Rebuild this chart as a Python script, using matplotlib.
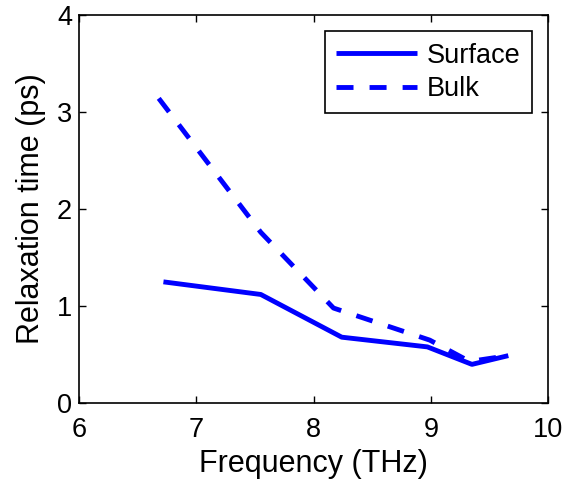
import numpy as np
import matplotlib
matplotlib.use('Agg')
import matplotlib.pyplot as plt

# frequencies (THz) and relaxation times (ps)
surface_freq = [6.72, 7.55, 8.24, 8.97, 9.35, 9.66]
surface_tau = [1.25, 1.12, 0.68, 0.58, 0.40, 0.49]

bulk_freq = [6.68, 7.55, 8.17, 8.99, 9.33, 9.66]
bulk_tau = [3.14, 1.76, 0.98, 0.65, 0.43, 0.49]

plt.rcParams['font.family'] = ['Liberation Sans', 'DejaVu Sans']

fig = plt.figure(figsize=(5.64, 4.8), dpi=100)
ax = fig.add_axes([0.140, 0.160, 0.832, 0.809])

ax.plot(surface_freq, surface_tau, color='#0000ff', lw=3.5, label='Surface',
        solid_capstyle='butt')
ax.plot(bulk_freq, bulk_tau, color='#0000ff', lw=3.5, label='Bulk',
        linestyle=(0, (3.5, 3.3)), dash_capstyle='butt')

ax.set_xlim(6, 10)
ax.set_ylim(0, 4)
ax.set_xticks([6, 7, 8, 9, 10])
ax.set_yticks([0, 1, 2, 3, 4])
ax.tick_params(direction='in', top=True, right=True, length=5, width=1,
               labelsize=19.5)
ax.tick_params(axis='x', pad=10)
ax.tick_params(axis='y', pad=5)
for sp in ax.spines.values():
    sp.set_linewidth(1.2)

ax.set_xlabel('Frequency (THz)', fontsize=22, labelpad=4)
ax.set_ylabel('Relaxation time (ps)', fontsize=22, labelpad=8)

leg = ax.legend(loc='upper right', fontsize=19.5, handlelength=3.0,
                handletextpad=0.35, borderpad=0.42, labelspacing=0.28,
                fancybox=False, framealpha=1, edgecolor='black',
                borderaxespad=0.6)
leg.get_frame().set_linewidth(1.2)

fig.savefig('out.png', dpi=100)
